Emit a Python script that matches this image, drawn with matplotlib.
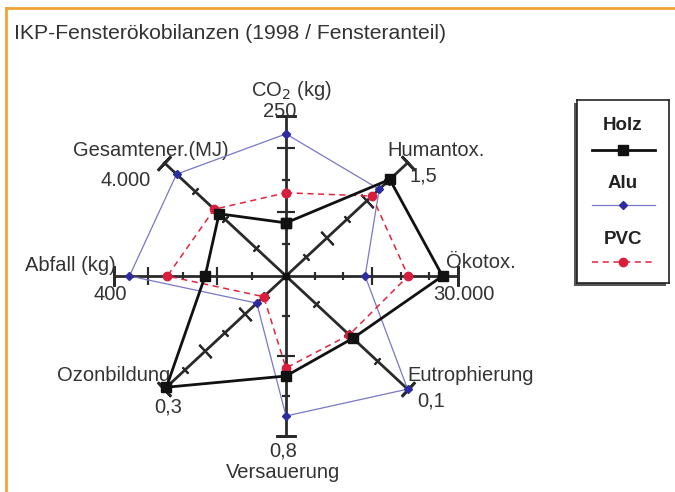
import numpy as np
import matplotlib
matplotlib.use("Agg")
from matplotlib import pyplot as plt
from matplotlib.lines import Line2D
from matplotlib.patches import Rectangle

plt.rcParams['font.family'] = ['Liberation Sans', 'DejaVu Sans']

# Achsen (im Uhrzeigersinn ab oben)
names = ["CO$_2$ (kg)", "Humantox.", "Ökotox.", "Eutrophierung",
         "Versauerung", "Ozonbildung", "Abfall (kg)", "Gesamtener.(MJ)"]
axis_max = [250, 1.5, 30000, 0.1, 0.8, 0.3, 400, 4000]
max_labels = ["250", "1,5", "30.000", "0,1", "0,8", "0,3", "400", "4.000"]
small_ticks = [[50, 150], [0.25, 0.75, 1.25], [5000, 10000, 20000, 25000],
               [0.025, 0.05, 0.075], [0.2, 0.6], [0.05, 0.15, 0.25],
               [80, 240], [1000, 2000, 3000]]
large_ticks = [[100, 200], [0.5, 1.0], [15000], [], [0.4], [0.1, 0.2],
               [160, 320], []]

holz = [83, 1.28, 27300, 0.055, 0.50, 0.295, 188, 2200]
alu = [222, 1.15, 13800, 0.1, 0.70, 0.072, 364, 3600]
pvc = [130, 1.06, 21300, 0.052, 0.46, 0.055, 276, 2360]

W, H = 675, 492
fig = plt.figure(figsize=(W / 100, H / 100), dpi=100)

# Rahmen (orange)
fig.add_artist(Line2D([6 / W, 6 / W], [0, 1 - 8 / H], transform=fig.transFigure,
                      color="#f2a536", lw=2))
fig.add_artist(Line2D([6 / W, 1], [1 - 8 / H, 1 - 8 / H], transform=fig.transFigure,
                      color="#f2a536", lw=2))
fig.text(14 / W, 1 - 33 / H, "IKP-Fensterökobilanzen (1998 / Fensteranteil)",
         fontsize=15.2, color="#333333", va="center", ha="left")

cx, cy, rx, ry = 286, 276, 172, 160
ax = fig.add_axes([(cx - rx) / W, 1 - (cy + ry) / H, 2 * rx / W, 2 * ry / H])
ax.set_xlim(-1, 1)
ax.set_ylim(-1, 1)
ax.axis("off")

theta = np.deg2rad(np.arange(len(names)) * 45)
sx, sy = np.sin(theta), np.cos(theta)
ang = np.degrees(np.arctan2(sy * ry, sx * rx))

# Achsen mit Teilstrichen
for i in range(len(names)):
    ax.plot([0, sx[i]], [0, sy[i]], color="#2a2a2a", lw=2, zorder=2, clip_on=False)
    f = np.array(small_ticks[i]) / axis_max[i]
    ax.plot(f * sx[i], f * sy[i], ls="none", marker=(2, 2, ang[i]), ms=6,
            mew=1.5, mec="#2a2a2a", zorder=2, clip_on=False)
    f = np.array(large_ticks[i]) / axis_max[i]
    ax.plot(f * sx[i], f * sy[i], ls="none", marker=(2, 2, ang[i]), ms=13,
            mew=1.5, mec="#2a2a2a", zorder=2, clip_on=False)
    ax.plot([sx[i]], [sy[i]], ls="none", marker=(2, 2, ang[i]), ms=14,
            mew=2, mec="#2a2a2a", zorder=2, clip_on=False)
ax.plot([0], [0], "s", color="#111111", ms=5, zorder=3)


def series(vals, **kw):
    f = np.array(vals) / np.array(axis_max)
    x = np.append(f * sx, f[0] * sx[0])
    y = np.append(f * sy, f[0] * sy[0])
    ax.plot(x, y, clip_on=False, **kw)


series(alu, color="#7878c8", lw=0.9, marker="D", ms=4, mfc="#2c2ca0",
       mec="#2c2ca0", zorder=4)
series(pvc, color="#e0243c", lw=1.1, ls=(0, (4, 3)), marker="o", ms=6,
       mfc="#d81e3c", mec="#d81e3c", zorder=5)
series(holz, color="#111111", lw=2, marker="s", ms=7, zorder=6)

# Beschriftungen (Versatz in Pixeln ab Achsenende)
name_pos = [(5, 26, "center"), (-20, 12, "left"), (-12, 14, "left"),
            (0, 14, "left"), (-3, -36, "center"), (6, 14, "right"),
            (-89, 11, "left"), (64, 12, "right")]
max_pos = [(-6, 5, "center"), (2, -13, "left"), (-25, -18, "left"),
           (10, -12, "left"), (-3, -15, "center"), (4, -18, "center"),
           (-4, -18, "center"), (-14, -18, "right")]
for i in range(len(names)):
    dx, dy, ha = name_pos[i]
    ax.annotate(names[i], (sx[i], sy[i]), xytext=(dx, dy), textcoords="offset pixels",
                ha=ha, va="center", fontsize=14.5, color="#333333")
    dx, dy, ha = max_pos[i]
    ax.annotate(max_labels[i], (sx[i], sy[i]), xytext=(dx, dy), textcoords="offset pixels",
                ha=ha, va="center", fontsize=14.5, color="#333333")

# Legende
lx0, lx1, ly0, ly1 = 577, 669, 100, 283
fig.add_artist(Rectangle(((lx0 - 3) / W, 1 - (ly1 + 3) / H), (lx1 - lx0) / W,
                         (ly1 - ly0) / H, transform=fig.transFigure,
                         facecolor="#555555", edgecolor="none", zorder=-1))
lax = fig.add_axes([lx0 / W, 1 - ly1 / H, (lx1 - lx0) / W, (ly1 - ly0) / H])
lax.set_xlim(0, 1)
lax.set_ylim(0, 1)
lax.set_xticks([])
lax.set_yticks([])
for s in lax.spines.values():
    s.set_color("#222222")
    s.set_linewidth(1.2)
leg = [("Holz", dict(color="#111111", lw=2, marker="s", ms=7)),
       ("Alu", dict(color="#7878c8", lw=0.9, marker="D", ms=4, mfc="#2c2ca0", mec="#2c2ca0")),
       ("PVC", dict(color="#e0243c", lw=1.1, ls=(0, (4, 3)), marker="o", ms=6,
                    mfc="#d81e3c", mec="#d81e3c"))]
ty = [0.863, 0.546, 0.235]
ly = [0.727, 0.426, 0.115]
for k, (lab, kw) in enumerate(leg):
    lax.text(0.5, ty[k], lab, ha="center", va="center", fontsize=13.5,
             fontweight="bold", color="#222222")
    lax.plot([0.16, 0.85], [ly[k], ly[k]], markevery=[], **kw)
    lax.plot([0.505], [ly[k]], ls="none", **{a: b for a, b in kw.items()
                                              if a not in ("ls", "lw")})

fig.savefig("out.png", dpi=100)
